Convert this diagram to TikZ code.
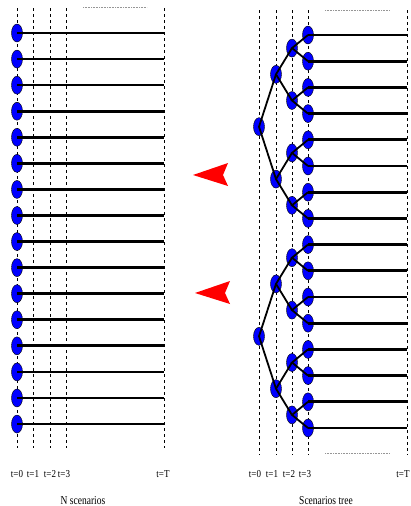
\documentclass[tikz,border=0pt]{standalone}
\usepackage{fontspec}
\setmainfont{Liberation Serif}
\usetikzlibrary{shapes.geometric, arrows.meta, positioning, calc}
\definecolor{myblue}{RGB}{0,0,255}
\definecolor{myred}{RGB}{255,0,0}
\definecolor{mygrey}{RGB}{150,150,150}
\newcommand{\vstretch}[2][1.18]{\scalebox{1}[#1]{#2}}
\tikzset{
  stage/.style={ellipse, draw=black, fill=myblue, minimum width=11pt,
    minimum height=18pt, inner sep=0pt, line width=0.4pt},
  scenline/.style={line width=2.7pt, color=black},
  branch/.style={line width=1.8pt, color=black},
  timeline/.style={dash pattern=on 3pt off 3pt, line width=0.6pt},
  dotrule/.style={mygrey, dash pattern=on 0.8pt off 0.8pt, line width=0.8pt},
  tlabel/.style={font=\fontsize{9}{10}\selectfont, anchor=base, inner sep=0pt},
  caption/.style={font=\fontsize{9.5}{11}\selectfont, anchor=base, inner sep=0pt}
}

\begin{document}
\begin{tikzpicture}[x=1pt, y=-1pt]
  \useasboundingbox (0,0) rectangle (410,506);

  % N scenarios: time lines
  \foreach \x/\lx/\t in {17/17/0, 33/33/1, 50/50/2, 66/64/3, 164/163/T} {
    \draw[timeline] (\x,8) -- (\x,448);
    \node[tlabel] at (\lx,477) {\vstretch{t=\t}};
  }
  \draw[dotrule] (83,7) -- (147,7);

  % N scenarios: one line per scenario
  \foreach \i in {0,...,15} {
    \node[stage] (s\i) at (17,{33+26.07*\i}) {};
    \coordinate (sT\i) at (164,{33+26.07*\i});
    \draw[scenline] (s\i.center) -- (sT\i);
  }
  \node[caption] (ncap) at (83,504) {\vstretch[1.27]{N scenarios}};

  % Scenarios tree: time lines
  \foreach \x/\lx/\t in {259/255/0, 276/272/1, 292/289/2, 308/305/3, 407/403/T} {
    \draw[timeline] (\x,10) -- (\x,455);
    \node[tlabel] at (\lx,477) {\vstretch{t=\t}};
  }
  \draw[dotrule] (325,10) -- (390,10);
  \draw[dotrule] (325,453) -- (390,453);

  % Scenarios tree: nodes
  \foreach \m in {0,1}
    \node[stage] (r\m) at (259,{126.7+209.6*\m}) {};
  \foreach \k in {0,...,3}
    \node[stage] (a\k) at (276,{74.3+104.8*\k}) {};
  \foreach \j in {0,...,7}
    \node[stage] (b\j) at (292,{48.1+52.4*\j}) {};
  \foreach \i in {0,...,15} {
    \node[stage] (l\i) at (308,{35+26.2*\i}) {};
    \coordinate (lT\i) at (407,{35+26.2*\i});
  }

  % Scenarios tree: branches
  \foreach \m in {0,1} {
    \pgfmathtruncatemacro{\ka}{2*\m}
    \pgfmathtruncatemacro{\kb}{2*\m+1}
    \draw[branch] (a\ka.center) -- (r\m.center) -- (a\kb.center);
  }
  \foreach \k in {0,...,3} {
    \pgfmathtruncatemacro{\ja}{2*\k}
    \pgfmathtruncatemacro{\jb}{2*\k+1}
    \draw[branch] (b\ja.center) -- (a\k.center) -- (b\jb.center);
  }
  \foreach \j in {0,...,7} {
    \pgfmathtruncatemacro{\ia}{2*\j}
    \pgfmathtruncatemacro{\ib}{2*\j+1}
    \draw[branch] (l\ia.center) -- (b\j.center) -- (l\ib.center);
    \draw[scenline] (l\ia.center) -- (lT\ia);
    \draw[scenline] (l\ib.center) -- (lT\ib);
  }
  \node[caption] (tcap) at (326,504) {\vstretch[1.27]{Scenarios tree}};

  % red arrowheads
  \foreach \dx/\dy in {0/0, 2/118}
    \fill[myred, shift={(\dx,\dy)}] (193,175) -- (228,163) -- (223,175)
      -- (228,186) -- cycle;
\end{tikzpicture}
\end{document}
